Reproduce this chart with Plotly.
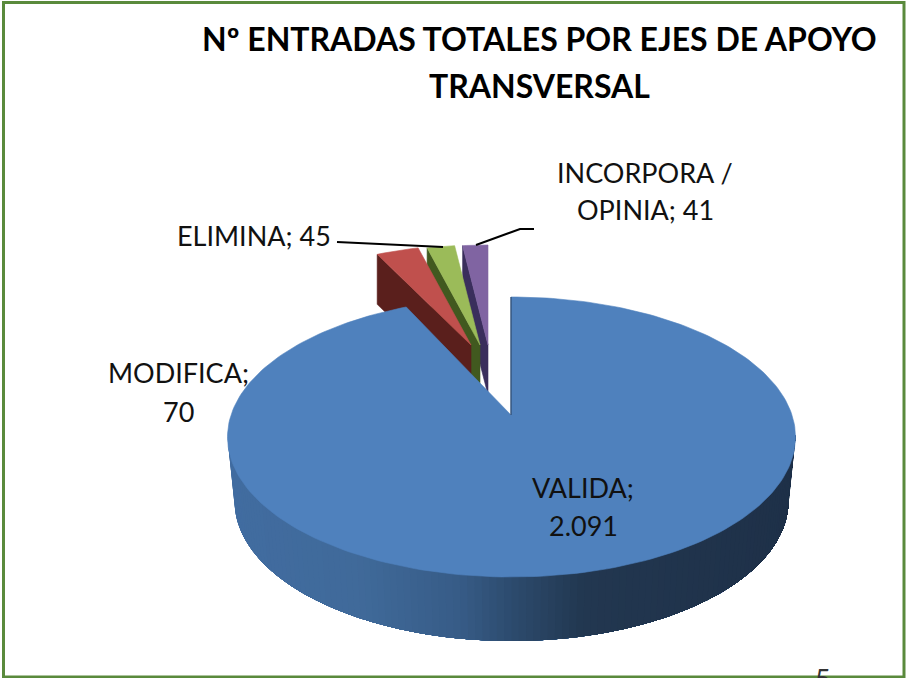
import math
import plotly.graph_objects as go

# ---- data ----
categories = ["VALIDA", "MODIFICA", "ELIMINA", "INCORPORA / OPINIA"]
values = [2091, 70, 45, 41]
value_labels = ["2.091", "70", "45", "41"]
title_lines = ["Nº ENTRADAS TOTALES POR EJES DE APOYO", "TRANSVERSAL"]

W, H = 906, 678
top_colors = ["#4f81bd", "#c0504d", "#9bbb59", "#8064a2"]
wall_colors = [None, "#5a1f1c", "#41591f", "#3a2e5c"]

# Pixel-based drawing frame
total = sum(values)
K = 2.22                    # horizontal stretch of the pulled-out slices
K_DISC = 2.08               # horizontal stretch of the big slice
CX, CY, RX, RY = 511.5, 437.0, 284.0, 140.0   # big disc rim ellipse
RX_BOTTOM = 277.0           # lower rim is a little narrower (perspective)
APEX = (511.0, 415.0)       # where the big slice's point sits
DEPTH = 64.0
EX_R = 100.0                # radius (vertical) of the pulled-out slices
EX_DEPTH = 50.0
EX_APEX = {1: (471.0, 345.0), 2: (480.0, 345.0), 3: (488.0, 345.0)}


def rim(t):
    """Point where the ray at pie angle t meets the rim ellipse of the disc."""
    dx, dy = K_DISC * math.sin(t), -math.cos(t)
    ox, oy = APEX[0] - CX, APEX[1] - CY
    a = (dx / RX) ** 2 + (dy / RY) ** 2
    b = 2 * (ox * dx / RX ** 2 + oy * dy / RY ** 2)
    c = (ox / RX) ** 2 + (oy / RY) ** 2 - 1
    s = (-b + math.sqrt(b * b - 4 * a * c)) / (2 * a)
    return APEX[0] + s * dx, APEX[1] + s * dy


def ex_rim(i, t):
    ax, ay = EX_APEX[i]
    return ax + EX_R * K * math.sin(t), ay - EX_R * math.cos(t)


def poly(fig, pts, color, width=0.6):
    xs = [p[0] for p in pts] + [pts[0][0]]
    ys = [p[1] for p in pts] + [pts[0][1]]
    fig.add_trace(go.Scatter(
        x=xs, y=ys, mode="lines", fill="toself", fillcolor=color,
        line=dict(color=color, width=width),
        hoverinfo="skip", showlegend=False))


def mix(stops, f):
    f = max(0.0, min(1.0, f))
    for (f0, c0), (f1, c1) in zip(stops, stops[1:]):
        if f <= f1:
            u = (f - f0) / (f1 - f0)
            return "rgb(%d,%d,%d)" % tuple(round(c0[k] + (c1[k] - c0[k]) * u) for k in range(3))
    return "rgb(%d,%d,%d)" % stops[-1][1]


wall_stops = [(0.0, (65, 108, 160)), (0.22, (64, 106, 154)), (0.4, (55, 92, 135)),
              (0.5, (44, 74, 108)), (0.62, (34, 55, 80)), (1.0, (30, 48, 72))]

# pie angles, clockwise from 12 o'clock
angles = [0.0]
for v in values:
    angles.append(angles[-1] + 2 * math.pi * v / total)

fig = go.Figure()

# pulled-out slices, right to left: each one overlaps the wall of the next
for i in (3, 2, 1):
    t0, t1 = angles[i], angles[i + 1]
    ax, ay = EX_APEX[i]
    left = ex_rim(i, t0)
    poly(fig, [(ax, ay), left, (left[0], left[1] + EX_DEPTH), (ax, ay + EX_DEPTH)], wall_colors[i])
    n = 6
    pts = [(ax, ay)] + [ex_rim(i, t0 + (t1 - t0) * k / n) for k in range(n + 1)]
    poly(fig, pts, top_colors[i])

# wall of the big disc: painted left to right, every band reaching the right end,
# so that no seam can show between two neighbouring bands
steps = 120
for k in range(steps):
    th = -math.pi / 2 + math.pi * k / steps
    outline = []
    for j in range(k, steps + 1):
        a = -math.pi / 2 + math.pi * j / steps
        outline.append((CX + RX_BOTTOM * math.sin(a), CY + RY * math.cos(a) + DEPTH))
    top = []
    for j in range(steps, k - 1, -1):
        a = -math.pi / 2 + math.pi * j / steps
        top.append((CX + RX * math.sin(a), CY + RY * math.cos(a) - 2))
    poly(fig, outline + top, mix(wall_stops, (math.sin(th) + 1) / 2), width=0)

# top of the big disc
n = 240
pts = [APEX] + [rim(angles[0] + (angles[1] - angles[0]) * k / n) for k in range(n + 1)]
poly(fig, pts, top_colors[0])

# cut face seen as a thin dark edge
p = rim(angles[0])
fig.add_trace(go.Scatter(x=[APEX[0], p[0]], y=[APEX[1], p[1]], mode="lines",
                         line=dict(color="#2f4b70", width=1.2), hoverinfo="skip", showlegend=False))

# leader lines
fig.add_trace(go.Scatter(x=[337, 443], y=[242, 247], mode="lines",
                         line=dict(color="black", width=2), hoverinfo="skip", showlegend=False))
fig.add_trace(go.Scatter(x=[476, 520, 534], y=[245, 229, 229], mode="lines",
                         line=dict(color="black", width=2), hoverinfo="skip", showlegend=False))

FONT = "Lato, Carlito, Calibri, sans-serif"


def text(x, y, s, size=27, bold=False, color="#111111", yshift=0):
    fig.add_annotation(x=x, y=y, xref="x", yref="y", text=("<b>%s</b>" % s) if bold else s,
                       showarrow=False, xanchor="center", yanchor="middle", yshift=yshift,
                       font=dict(family=FONT, size=size, color=color))


text(539, 38, title_lines[0], size=32, bold=True, color="black")
text(539, 85, title_lines[1], size=32, bold=True, color="black")
text(583, 487, categories[0] + ";")
text(583, 525, value_labels[0])
text(178, 372, categories[1] + ";")
text(178, 411, value_labels[1])
text(254, 235, "%s; %s" % (categories[2], value_labels[2]))
text(645, 172, "INCORPORA /")
text(645, 209, "OPINIA; " + value_labels[3])
text(823, 677, "5", color="#333333", yshift=-1)

# chart frame
fig.add_shape(type="rect", x0=3.5, y0=2.5, x1=904, y1=677, xref="x", yref="y",
              line=dict(color="#5a8a3c", width=3), fillcolor="rgba(0,0,0,0)")

fig.update_layout(
    width=W, height=H, margin=dict(l=0, r=0, t=0, b=0),
    paper_bgcolor="white", plot_bgcolor="white", showlegend=False,
    xaxis=dict(range=[0, W], visible=False, fixedrange=True),
    yaxis=dict(range=[H, 0], visible=False, fixedrange=True),
)
fig.write_html(
    "out.html",
    config={"displayModeBar": False},
    post_script="document.body.style.margin='0';document.body.style.overflow='hidden';",
)
